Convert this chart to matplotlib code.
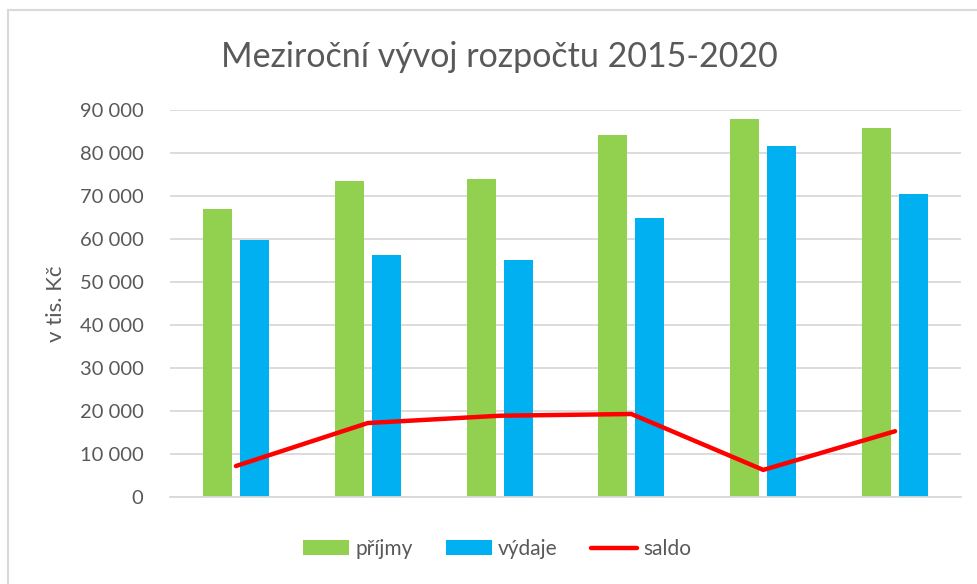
import matplotlib
matplotlib.use("Agg")
import matplotlib.pyplot as plt
import numpy as np
from matplotlib.patches import Rectangle
from matplotlib.ticker import FuncFormatter, MultipleLocator

years = ["2015", "2016", "2017", "2018", "2019", "2020"]
prijmy = [67000, 73500, 74000, 84200, 87900, 85800]
vydaje = [59800, 56300, 55100, 64900, 81600, 70500]
saldo = [7200, 17200, 18900, 19300, 6300, 15300]

GREEN = "#92D050"
BLUE = "#00B0F0"
RED = "#FF0000"
TEXT = "#595959"
GRID = "#D9D9D9"

plt.rcParams["font.family"] = ["Lato", "DejaVu Sans"]


def thousands(v, _pos):
    return f"{int(v):,}".replace(",", " ")


fig = plt.figure(figsize=(9.78, 5.84), dpi=100)
ax = fig.add_axes([170 / 978, 1 - 497 / 584, 791 / 978, 387 / 584])

x = np.arange(len(years))
w = 0.22
gap = 0.06
b1 = ax.bar(x - (w + gap) / 2, prijmy, w, color=GREEN, label="příjmy", zorder=2)
b2 = ax.bar(x + (w + gap) / 2, vydaje, w, color=BLUE, label="výdaje", zorder=2)
(ln,) = ax.plot(x, saldo, color=RED, lw=3.2, solid_capstyle="round", label="saldo", zorder=3)

ax.set_xlim(-0.5, len(years) - 0.5)
ax.set_ylim(0, 90000)
ax.yaxis.set_major_locator(MultipleLocator(10000))
ax.yaxis.set_major_formatter(FuncFormatter(thousands))
ax.set_xticks(x)
ax.set_xticklabels([])
ax.tick_params(axis="x", length=0)
ax.tick_params(axis="y", length=0, labelsize=14.5, labelcolor=TEXT, pad=19)
ax.grid(axis="y", color=GRID, lw=1.3, zorder=0)
for s in ["top", "right", "left"]:
    ax.spines[s].set_visible(False)
ax.spines["bottom"].set_color(GRID)
ax.spines["bottom"].set_linewidth(1.3)

ax.set_ylabel("v tis. Kč", fontsize=16, color=TEXT, labelpad=10)
fig.text(0.511, 1 - 57 / 584, "Meziroční vývoj rozpočtu 2015-2020", ha="center",
         va="center", fontsize=24.5, color=TEXT)

fig.legend([b1, b2, ln], ["příjmy", "výdaje", "saldo"], loc="center",
           bbox_to_anchor=(497 / 978, 1 - 549 / 584), ncol=3,
           frameon=False, fontsize=15, labelcolor=TEXT, handlelength=2.2,
           handletextpad=0.3, columnspacing=1.6)

fig.patches.append(Rectangle((8 / 978, -0.1), 1.2, 0.1 + 1 - 10 / 584,
                             transform=fig.transFigure, fill=False,
                             edgecolor=GRID, lw=1.5))

fig.savefig("out.png", dpi=100)
